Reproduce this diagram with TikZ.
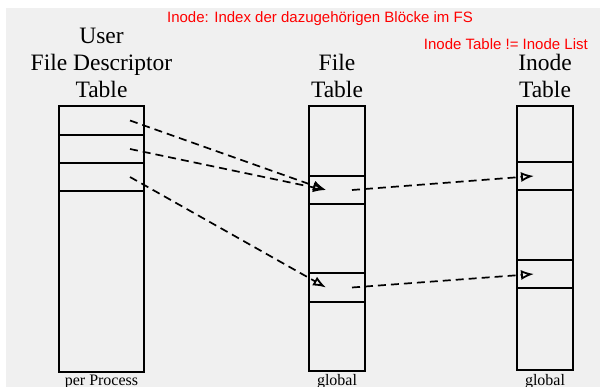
\documentclass[tikz,border=0pt]{standalone}
\usepackage{fontspec}
\setmainfont{Liberation Serif}
\newfontfamily\notefont{Liberation Sans}
\usetikzlibrary{arrows.meta,positioning,calc}

\begin{document}
\begin{tikzpicture}[x=1pt,y=-1pt,>={Latex[open,length=13pt,width=10pt,line width=1.8pt]},
   tblbox/.style={draw,line width=1.9pt,inner sep=0pt,outer sep=0pt,anchor=north west},
   head/.style={font=\fontsize{23.5}{27}\selectfont,align=center,inner sep=0pt},
   foot/.style={font=\fontsize{16}{18}\selectfont,anchor=base,inner sep=0pt},
   note/.style={font=\notefont\fontsize{15}{18}\selectfont,text=red,inner sep=0pt},
   ptr/.style={->,line width=1.7pt,dash pattern=on 8pt off 5pt}]
  \useasboundingbox (0,0) rectangle (600,387);
  \fill[black!6] (6,8) rectangle (600,387);
  % user file descriptor table
  \node[tblbox,minimum width=85pt,minimum height=266pt] (fdt) at (59,106) {};
  \node[tblbox,minimum width=85pt,minimum height=29pt] (fd1) at (fdt.north west) {};
  \node[tblbox,minimum width=85pt,minimum height=28pt] (fd2) at (fd1.south west) {};
  \node[tblbox,minimum width=85pt,minimum height=28pt] (fd3) at (fd2.south west) {};
  % file table
  \node[tblbox,minimum width=56pt,minimum height=265pt] (ft) at (309,106) {};
  \node[tblbox,minimum width=56pt,minimum height=28pt] (ft1) at ($(ft.north west)+(0,70)$) {};
  \node[tblbox,minimum width=56pt,minimum height=29pt] (ft2) at ($(ft.north west)+(0,167)$) {};
  % inode table
  \node[tblbox,minimum width=56pt,minimum height=264pt] (it) at (517,106) {};
  \node[tblbox,minimum width=56pt,minimum height=28pt] (it1) at ($(it.north west)+(0,56)$) {};
  \node[tblbox,minimum width=56pt,minimum height=28pt] (it2) at ($(it.north west)+(0,154)$) {};
  % headings and footers
  \node[head,above=8pt of fdt] (fdhead) {User\\File Descriptor\\Table};
  \node[head,above=8pt of ft] (fthead) {File\\Table};
  \node[head,above=8pt of it] (ithead) {Inode\\Table};
  \node[foot] (fdfoot) at (fdt.south |- 0,385) {per Process};
  \node[foot] (ftfoot) at (ft.south |- 0,385) {global};
  \node[foot] (itfoot) at (it.south |- 0,385) {global};
  % remarks
  \node[note,anchor=base] (idx) at (320,23) {Inode: Index der dazugehörigen Blöcke im FS};
  \node[note,anchor=base east] (neq) at (588,50) {Inode Table != Inode List};
  % pointers
  \foreach \a/\b in {fd1/ft1,fd2/ft1,fd3/ft2}{\draw[ptr] ($(\a.east)+(-14,0)$) -- ($(\b.west)+(17,0)$);}
  \foreach \a/\b in {ft1/it1,ft2/it2}{\draw[ptr] ($(\a.east)+(-13,0)$) -- ($(\b.west)+(17,0)$);}
\end{tikzpicture}
\end{document}
